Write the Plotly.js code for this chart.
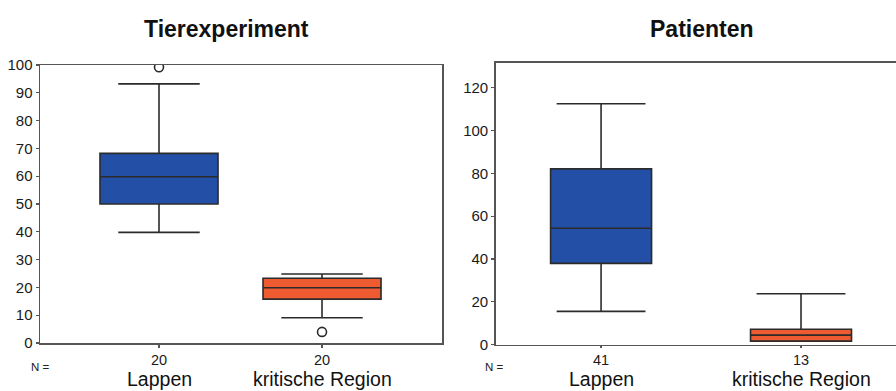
<!DOCTYPE html>
<html>
<head>
<meta charset="utf-8">
<script src="https://cdn.plot.ly/plotly-3.0.1.min.js"></script>
<style>html,body{margin:0;padding:0;background:#fff;}#chart{width:896px;height:391px;}</style>
</head>
<body>
<div id="chart"></div>
<script>
// ---- data ----
const categories = ['Lappen', 'kritische Region'];
const boxColors = ['#2350a6', '#ee5b30'];

const tierN = [20, 20];
const tierQ1 = [50, 15.8];
const tierMedian = [59.8, 19.9];
const tierQ3 = [68.2, 23.3];
const tierLower = [39.8, 9.1];
const tierUpper = [93.2, 24.8];
const tierOutliers = [[99.2], [4.0]];

const patN = [41, 13];
const patQ1 = [37.9, 1.6];
const patMedian = [54.3, 4.4];
const patQ3 = [82.1, 7.1];
const patLower = [15.5, 1.6];
const patUpper = [112.5, 23.7];

const titles = ['Tierexperiment', 'Patienten'];

const FONT = 'Liberation Sans, Arial, sans-serif';
const LINE = '#2b2b2b';

const traces = [];
function addPanel(xa, ya, q1, med, q3, lo, hi, width, whisker, outliers) {
  categories.forEach((c, i) => {
    traces.push({
      type: 'box', xaxis: xa, yaxis: ya,
      x: [c], q1: [q1[i]], median: [med[i]], q3: [q3[i]],
      lowerfence: [lo[i]], upperfence: [hi[i]],
      width: width, whiskerwidth: whisker,
      fillcolor: boxColors[i],
      line: {color: LINE, width: 1.6},
      boxpoints: false, hoverinfo: 'skip', showlegend: false
    });
    if (outliers && outliers[i].length) {
      traces.push({
        type: 'scatter', mode: 'markers', xaxis: xa, yaxis: ya,
        x: outliers[i].map(() => c), y: outliers[i],
        marker: {symbol: 'circle-open', size: 9, color: LINE, line: {width: 1.6, color: LINE}},
        hoverinfo: 'skip', showlegend: false
      });
    }
  });
}
addPanel('x', 'y', tierQ1, tierMedian, tierQ3, tierLower, tierUpper, 0.724, 0.69, tierOutliers);
addPanel('x2', 'y2', patQ1, patMedian, patQ3, patLower, patUpper, 0.505, 0.88, null);

const xCommon = {
  type: 'category', showgrid: false, zeroline: false,
  showline: true, linecolor: '#555', linewidth: 1.5,
  ticks: 'outside', ticklen: 3, tickwidth: 1.2, tickcolor: '#555',
  tickfont: {family: FONT, size: 14.5, color: '#1a1a1a'},
  tickvals: categories, fixedrange: true
};
const yCommon = {
  showgrid: false, zeroline: false,
  showline: true, linecolor: '#555', linewidth: 1.5,
  ticks: 'outside', ticklen: 3, tickwidth: 1.2, tickcolor: '#555',
  tickfont: {family: FONT, size: 15, color: '#1a1a1a'}, fixedrange: true
};

const annotations = [];
categories.forEach((c) => {
  ['x', 'x2'].forEach(xa => {
    annotations.push({xref: xa, yref: 'paper', x: c, y: 0, text: c,
      showarrow: false, yanchor: 'bottom', xanchor: 'center', borderpad: 0,
      font: {family: FONT, size: 19.5, color: '#111'}});
  });
});
annotations.push({xref: 'paper', yref: 'paper', x: 40/896, y: 1 - 367/391, text: 'N =',
  showarrow: false, xanchor: 'center', yanchor: 'middle', font: {family: FONT, size: 11.5, color: '#222'}});
annotations.push({xref: 'paper', yref: 'paper', x: 495/896, y: 1 - 367/391, text: 'N =',
  showarrow: false, xanchor: 'center', yanchor: 'middle', font: {family: FONT, size: 11.5, color: '#222'}});
annotations.push({xref: 'paper', yref: 'paper', x: 226/896, y: 1 - 29/391, text: '<b>' + titles[0] + '</b>',
  showarrow: false, xanchor: 'center', yanchor: 'middle', font: {family: FONT, size: 23, color: '#111'}});
annotations.push({xref: 'paper', yref: 'paper', x: 702/896, y: 1 - 29/391, text: '<b>' + titles[1] + '</b>',
  showarrow: false, xanchor: 'center', yanchor: 'middle', font: {family: FONT, size: 23, color: '#111'}});

const layout = {
  width: 896, height: 391,
  margin: {l: 0, r: 0, t: 0, b: 0},
  paper_bgcolor: '#fff', plot_bgcolor: '#fff',
  showlegend: false,
  xaxis: Object.assign({}, xCommon, {domain: [40/896, 442/896], anchor: 'y',
    range: [-0.73, 1.736], mirror: true, ticktext: tierN.map(String)}),
  yaxis: Object.assign({}, yCommon, {domain: [1 - 343/391, 1 - 65/391], anchor: 'x',
    range: [0, 100], dtick: 10, mirror: true}),
  xaxis2: Object.assign({}, xCommon, {domain: [495.7/896, 1], anchor: 'y2',
    range: [-0.527, 1.475], mirror: true, ticklen: 2, ticktext: patN.map(String)}),
  yaxis2: Object.assign({}, yCommon, {domain: [1 - 344.5/391, 1 - 62.7/391], anchor: 'x2',
    range: [0, 131.7], dtick: 20}),
  annotations: annotations
};

Plotly.newPlot('chart', traces, layout, {displayModeBar: false, staticPlot: true});
</script>
</body>
</html>
